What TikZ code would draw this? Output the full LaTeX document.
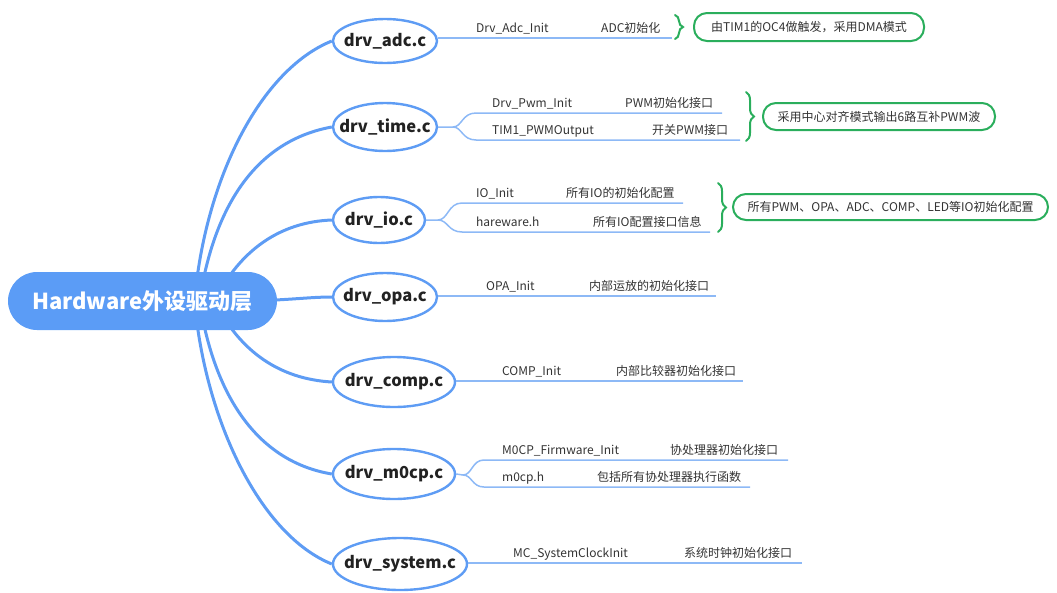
\documentclass[tikz,border=0pt]{standalone}
\usepackage{fontspec}
\setmainfont{Noto Sans CJK SC}
\usetikzlibrary{shapes.geometric,decorations.pathreplacing,backgrounds}
\definecolor{rootblue}{HTML}{5B9CF6}
\definecolor{lineblue}{HTML}{5E9CF4}
\definecolor{leafblue}{HTML}{8DB9F6}
\definecolor{calgreen}{HTML}{2AAE5C}
\definecolor{txt}{HTML}{333333}
\definecolor{drvtxt}{HTML}{222222}
\begin{document}
\begin{tikzpicture}[x=1pt,y=-1pt,
  rootnode/.style={rectangle, rounded corners=29pt, fill=rootblue, minimum width=269pt, minimum height=58pt, text=white, font=\fontsize{22}{26}\selectfont\bfseries, inner sep=0pt},
  drv/.style={ellipse, draw=lineblue, line width=2.4pt, fill=white, inner sep=0pt,
    label={[font=\fontsize{16.5}{20}\selectfont\bfseries, text=drvtxt, inner sep=0pt]center:#1}},
  leaf/.style={anchor=base west, inner sep=0pt, font=\fontsize{12}{14}\selectfont, text=txt},
  callout/.style={rectangle, rounded corners=13pt, draw=calgreen, line width=2pt, fill=white, inner sep=0pt, font=\fontsize{12}{14}\selectfont, text=txt},
  brc/.style={draw=calgreen, line width=2pt, line cap=round, decorate, decoration={brace, amplitude=8pt}},
  mainc/.style={draw=lineblue, line width=3pt},
  subl/.style={draw=leafblue, line width=1.5pt}
]
\useasboundingbox (0,0) rectangle (1057,592);
% root
\node[rootnode] (root) at (142.5,301) {Hardware外设驱动层};
% drivers
\node[drv={drv\_adc.c}, minimum width=104pt, minimum height=44pt] (adc) at (385,41) {};
\node[drv={drv\_time.c}, minimum width=104pt, minimum height=48pt] (tim) at (385,127) {};
\node[drv={drv\_io.c}, minimum width=92pt, minimum height=46pt] (io) at (379,220) {};
\node[drv={drv\_opa.c}, minimum width=104pt, minimum height=48pt] (opa) at (385,297) {};
\node[drv={drv\_comp.c}, minimum width=122pt, minimum height=50pt] (comp) at (394,382) {};
\node[drv={drv\_m0cp.c}, minimum width=122pt, minimum height=50pt] (m0cp) at (394,474) {};
\node[drv={drv\_system.c}, minimum width=134pt, minimum height=52pt] (sys) at (400,564) {};
% main curves
\begin{scope}[on background layer]
\draw[mainc] ([xshift=52pt]root.center) .. controls (205,180) and (260,70) .. (adc.west);
\draw[mainc] ([xshift=57pt]root.center) .. controls (215,200) and (260,140) .. (tim.west);
\draw[mainc] ([xshift=72pt]root.center) .. controls (240,250) and (280,222) .. (io.west);
\draw[mainc] ([xshift=107pt]root.center) .. controls (290,300) and (310,297) .. (opa.west);
\draw[mainc] ([xshift=72pt]root.center) .. controls (240,352) and (280,379) .. (comp.west);
\draw[mainc] ([xshift=57pt]root.center) .. controls (215,400) and (260,462) .. (m0cp.west);
\draw[mainc] ([xshift=52pt]root.center) .. controls (205,420) and (260,535) .. (sys.west);
\end{scope}
% leaf end coordinates
\coordinate (adcE) at (672,38);
\coordinate (timE1) at (722,113);
\coordinate (timE2) at (740,140);
\coordinate (ioE1) at (683,203);
\coordinate (ioE2) at (710,232);
\coordinate (opaE) at (716,296);
\coordinate (compE) at (743,381);
\coordinate (m0E1) at (788,460);
\coordinate (m0E2) at (750,487);
\coordinate (sysE) at (802,563);
% leaf lines
\draw[subl] (adc.east |- adcE) -- (adcE);
\draw[subl] (tim.east) -- (453,127) .. controls (462,127) and (462,113) .. (476,113) -- (timE1);
\draw[subl] (453,127) .. controls (462,127) and (462,140) .. (476,140) -- (timE2);
\draw[subl] (io.east) -- (438,220) .. controls (448,220) and (448,203) .. (462,203) -- (ioE1);
\draw[subl] (438,220) .. controls (448,220) and (448,232) .. (462,232) -- (ioE2);
\draw[subl] (opa.east |- opaE) -- (opaE);
\draw[subl] (comp.east |- compE) -- (compE);
\draw[subl] (m0cp.east) -- (463,475) .. controls (472,475) and (472,460) .. (484,460) -- (m0E1);
\draw[subl] (463,475) .. controls (472,475) and (472,487) .. (484,487) -- (m0E2);
\draw[subl] (sys.east |- sysE) -- (sysE);
% leaf texts
\node[leaf] (l1a) at (476,32) {Drv\_Adc\_Init};
\node[leaf] (l1b) at (601,32) {ADC初始化};
\node[leaf] (l2a) at (492,107) {Drv\_Pwm\_Init};
\node[leaf] (l2b) at (625,107) {PWM初始化接口};
\node[leaf] (l3a) at (492,134) {TIM1\_PWMOutput};
\node[leaf] (l3b) at (652,134) {开关PWM接口};
\node[leaf] (l4a) at (476,197) {IO\_Init};
\node[leaf] (l4b) at (566,197) {所有IO的初始化配置};
\node[leaf] (l5a) at (476,226) {hareware.h};
\node[leaf] (l5b) at (593,226) {所有IO配置接口信息};
\node[leaf] (l6a) at (486,290) {OPA\_Init};
\node[leaf] (l6b) at (589,290) {内部运放的初始化接口};
\node[leaf] (l7a) at (502,375) {COMP\_Init};
\node[leaf] (l7b) at (616,375) {内部比较器初始化接口};
\node[leaf] (l8a) at (502,454) {M0CP\_Firmware\_Init};
\node[leaf] (l8b) at (670,454) {协处理器初始化接口};
\node[leaf] (l9a) at (502,481) {m0cp.h};
\node[leaf] (l9b) at (597,481) {包括所有协处理器执行函数};
\node[leaf] (l10a) at (513,557) {MC\_SystemClockInit};
\node[leaf] (l10b) at (684,557) {系统时钟初始化接口};
% braces
\coordinate (b1t) at (675,15);
\coordinate (b1b) at (675,39);
\coordinate (b2t) at (746,92);
\coordinate (b2b) at (746,141);
\coordinate (b3t) at (718,183);
\coordinate (b3b) at (718,232);
\draw[brc] (b1t) -- (b1b);
\draw[brc] (b2t) -- (b2b);
\draw[brc] (b3t) -- (b3b);
% callouts
\node[callout, minimum width=230pt, minimum height=28pt] (c1) at (809,27) {由TIM1的OC4做触发，采用DMA模式};
\node[callout, minimum width=232pt, minimum height=27pt] (c2) at (879,116.5) {采用中心对齐模式输出6路互补PWM波};
\node[callout, minimum width=315pt, minimum height=26pt] (c3) at (890.5,207) {所有PWM、OPA、ADC、COMP、LED等IO初始化配置};
\end{tikzpicture}
\end{document}
